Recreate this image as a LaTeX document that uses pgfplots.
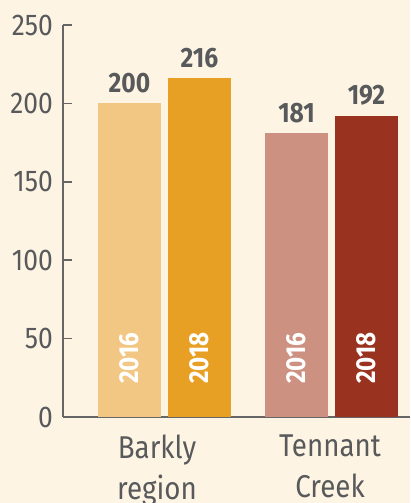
\documentclass[border=0pt]{standalone}
\usepackage{fontspec}
\setmainfont{Fira Sans}[FakeStretch=0.88]
\usepackage{pgfplots}
\pgfplotsset{compat=1.18}
\definecolor{bg}{HTML}{FDF4E4}
\definecolor{axgray}{HTML}{666666}
\definecolor{txtgray}{HTML}{58595B}
\definecolor{cA}{HTML}{F2C784}
\definecolor{cB}{HTML}{E8A024}
\definecolor{cC}{HTML}{CC9180}
\definecolor{cD}{HTML}{9A3220}
\tikzset{yearlbl/.style={rotate=90, text=white, font=\bfseries\fontsize{27.5}{30}\selectfont}}
\begin{document}
\begin{tikzpicture}
\fill[bg] (0,0) rectangle (410pt,503pt);
\begin{axis}[
  at={(63pt,86pt)}, anchor=south west,
  scale only axis, width=347pt, height=392pt,
  xmin=63, xmax=410, ymin=0, ymax=250,
  axis lines=left,
  axis line style={-, draw=axgray, line width=2pt},
  ytick={0,50,100,150,200,250},
  tick align=inside,
  ytick style={draw=axgray, line width=1.6pt},
  major tick length=9pt,
  xtick={157,330},
  xtick style={draw=none},
  xticklabels={{Barkly\\region},{Tennant\\Creek}},
  /pgf/number format/assume math mode=true,
  yticklabel style={font=\fontsize{30}{32}\selectfont, text=txtgray, inner sep=0pt, xshift=-10pt},
  xticklabel style={font=\fontsize{31.5}{41}\selectfont, text=txtgray, align=center, inner sep=0pt, yshift=-18pt},
  nodes near coords,
  nodes near coords style={font=\bfseries\fontsize{28}{30}\selectfont, text=txtgray, anchor=south, inner sep=0pt, yshift=10pt},
  clip=false,
]
\addplot[ybar, bar width=63pt, bar shift=0pt, fill=cA, draw=none] coordinates {(129.5,200)};
\addplot[ybar, bar width=63pt, bar shift=0pt, fill=cB, draw=none] coordinates {(199.5,216)};
\addplot[ybar, bar width=63pt, bar shift=0pt, fill=cC, draw=none] coordinates {(296.5,181)};
\addplot[ybar, bar width=63pt, bar shift=0pt, fill=cD, draw=none] coordinates {(366.5,192)};
\node[yearlbl] at (axis cs:129.5,37.6) {2016};
\node[yearlbl] at (axis cs:199.5,37.6) {2018};
\node[yearlbl] at (axis cs:296.5,37.6) {2016};
\node[yearlbl] at (axis cs:366.5,37.6) {2018};
\end{axis}
\pgfresetboundingbox
\path (0,0) rectangle (410pt,503pt);
\end{tikzpicture}
\end{document}
